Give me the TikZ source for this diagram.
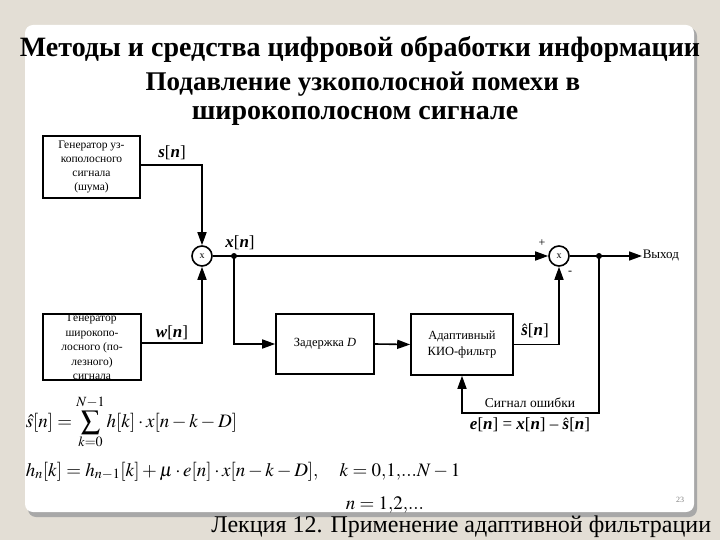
\documentclass[tikz,border=0pt]{standalone}
\usepackage{mathptmx}
\usepackage{fontspec}
\setmainfont{Liberation Serif}
\usetikzlibrary{arrows.meta}
\definecolor{bgc}{HTML}{E3DED5}
\definecolor{shc}{HTML}{A8A8A8}
\newcommand{\bi}[1]{\textbf{\textit{#1}}}
\begin{document}
\begin{tikzpicture}[x=1pt,y=-1pt,
  line width=1.6pt,
  arr/.style={-{Triangle[length=13pt,width=9pt]}},
  blk/.style={draw, rectangle, align=center, inner sep=0pt, font=\fontsize{11.5}{14}\selectfont},
  mix/.style={draw, circle, minimum size=20pt, inner sep=0pt, font=\fontsize{10}{10}\selectfont},
  lab/.style={font=\fontsize{17}{17}\selectfont, inner sep=0pt},
  small/.style={font=\fontsize{12}{13}\selectfont, inner sep=0pt},
  ttl/.style={font=\fontsize{28}{28}\selectfont\bfseries, inner sep=0pt},
  eq/.style={font=\fontsize{19}{19}\selectfont, inner sep=0pt, anchor=base west}]
\useasboundingbox (0,0) rectangle (720,540);
\fill[bgc] (0,0) rectangle (720,540);
\fill[shc, rounded corners=8pt] (28,28) rectangle (697,517);
\fill[white, rounded corners=8pt] (25,25) rectangle (694,512);
% title
\node[ttl] (t1) at (360,49) {Методы и средства цифровой обработки информации};
\node[ttl, font=\fontsize{27}{27}\selectfont\bfseries] (t2) at (363,84) {Подавление узкополосной помехи в};
\node[ttl] (t3) at (355,116) {широкополосном сигнале};
% blocks
\node[blk, minimum width=97pt, minimum height=62pt] (g1) at (91.5,167) {Генератор уз-\\кополосного\\сигнала\\(шума)};
\node[blk, minimum width=98pt, minimum height=62pt, font=\fontsize{11.5}{14.5}\selectfont] (g2) at (92,347) {Генератор\\широкопо-\\лосного (по-\\лезного)\\сигнала};
\node[mix] (m1) at (202,256) {x};
\node[mix] (m2) at (559,256) {x};
\node[blk, minimum width=98pt, minimum height=60pt, font=\fontsize{12.5}{14}\selectfont] (dl) at (325,344) {Задержка \textit{D}};
\node[blk, minimum width=102pt, minimum height=61pt, font=\fontsize{12.5}{16}\selectfont] (af) at (462,344.5) {Адаптивный\\КИО-фильтр};
\coordinate (j1) at (234,256);
\coordinate (j2) at (599,256);
\coordinate (c4) at (462,413);
\node[small, anchor=west, font=\fontsize{13}{13}\selectfont] (out) at (642,256) {Выход};
% connectors
\draw[arr] (g1.east |- 0,165) -| (m1.north);
\draw[arr] (g2.east |- 0,343) -| (m1.south);
\draw (m1.east) -- (j1);
\draw[arr] (j1) -- (m2.west);
\draw[arr] (j1) |- (dl.west);
\draw[arr] (dl.east) -- (af.west);
\draw[arr] (af.east) -| (m2.south);
\draw (m2.east) -- (j2);
\draw[arr] (j2) -- (out.west);
\draw[arr] (j2) |- (c4) -- (af.south);
\fill (j1) circle (3pt);
\fill (j2) circle (3pt);
% labels
\node[lab] (ls) at (172,153) {\bi{s}[\bi{n}]};
\node[lab] (lw) at (172,333) {\bi{w}[\bi{n}]};
\node[lab] (lx) at (240,243) {\bi{x}[\bi{n}]};
\node[lab] (lsh) at (535,331) {$\hat{\bi{s}}$[\bi{n}]};
\node[small] (lp) at (542,243) {+};
\node[small] (lm) at (570,273) {-};
\node[small, font=\fontsize{13.5}{13.5}\selectfont] (le) at (530,403) {Сигнал ошибки};
\node[lab] (lee) at (530,425) {\bi{e}[\bi{n}] = \bi{x}[\bi{n}] -- $\hat{\bi{s}}$[\bi{n}]};
% equations
\node[eq] (e1) at (25,427) {$\displaystyle \hat{s}[n]=\sum_{k=0}^{N-1}h[k]\cdot x[n-k-D]$};
\node[eq] (e2) at (25,476) {$h_n[k]=h_{n-1}[k]+\mu\cdot e[n]\cdot x[n-k-D],\quad k=0{,}1{,}...N-1$};
\node[eq] (e3) at (345,509) {$n=1{,}2{,}...$};
\node[font=\fontsize{8}{8}\selectfont, text=gray, inner sep=0pt] (pg) at (680,500) {23};
\node[font=\fontsize{24}{24}\selectfont, inner sep=0pt, anchor=east] (lec) at (712,527) {Лекция 12. Применение адаптивной фильтрации};
\end{tikzpicture}
\end{document}
